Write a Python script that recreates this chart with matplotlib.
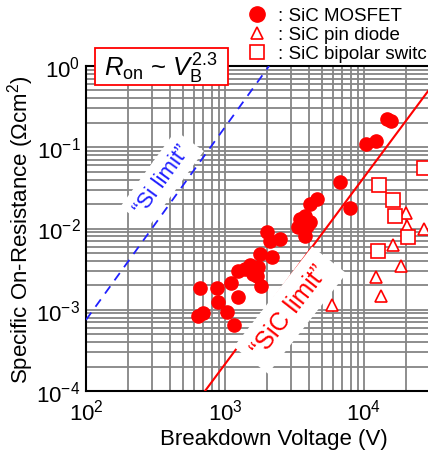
#!/usr/bin/env python3
# Specific on-resistance vs breakdown voltage for SiC devices (log-log)

import matplotlib
matplotlib.use("Agg")
import matplotlib.pyplot as plt
from matplotlib.lines import Line2D
from matplotlib.patches import Rectangle
from matplotlib.ticker import LogLocator, FixedLocator

plt.rcParams['font.family'] = ['Liberation Sans', 'DejaVu Sans']
plt.rcParams['mathtext.fontset'] = 'custom'
plt.rcParams['mathtext.rm'] = 'Liberation Sans'
plt.rcParams['mathtext.it'] = 'Liberation Sans:italic'

# SiC MOSFET (V, Ohm cm^2)
mosfet_v = [661, 875, 891, 1033, 640, 695, 1161, 1104, 1242, 1242, 1393, 1514,
            1589, 1698, 1785, 1815, 1725, 2178, 2004, 2108, 2488, 3467, 3768,
            3350, 3892, 3768, 4092, 4092, 4596, 6717, 7930, 10330, 12190,
            14630, 15630]
mosfet_r = [1.85e-3, 1.85e-3, 1.25e-3, 9.4e-4, 8.4e-4, 9.1e-4, 6.5e-4, 2.13e-3,
            1.44e-3, 3.0e-3, 3.18e-3, 3.56e-3, 2.75e-3, 2.6e-3, 4.85e-3,
            1.96e-3, 3.36e-3, 4.46e-3, 9.06e-3, 7.0e-3, 7.43e-3, 1.31e-2,
            1.43e-2, 1.04e-2, 1.07e-2, 8.1e-3, 1.2e-2, 2.0e-2, 2.3e-2, 3.7e-2,
            1.79e-2, 0.110, 0.119, 0.223, 0.21]

# SiC pin diode
diode_v = [20050, 20370, 27000, 16180, 18460, 12190, 13240, 5890]
diode_r = [1.55e-2, 1.07e-2, 9.9e-3, 6.3e-3, 3.45e-3, 2.53e-3, 1.48e-3, 1.14e-3]

# SiC bipolar switch
bipolar_v = [12830, 16180, 16720, 20750, 12620, 27040]
bipolar_r = [3.43e-2, 2.24e-2, 1.43e-2, 7.9e-3, 5.3e-3, 5.6e-2]

# material limits
si_limit_v = [100, 2075]
si_limit_r = [7.5e-4, 1.0]
sic_limit_v = [718, 30000]
sic_limit_r = [1e-4, 0.535]

x_major = [1e2, 1e3, 1e4]

red = '#ff0000'
blue = '#2020ff'

fig = plt.figure(figsize=(4.28, 4.52), dpi=100)
# axes runs past the right edge of the figure, like the cropped original
ax = fig.add_axes([86 / 428, 60 / 452, 417 / 428, 325 / 452])
ax.set_xscale('log')
ax.set_yscale('log')
ax.set_xlim(1e2, 1e5)
ax.set_ylim(1e-4, 1e0)
ax.xaxis.set_major_locator(FixedLocator(x_major))
ax.xaxis.set_minor_locator(LogLocator(base=10, subs=range(2, 10)))

ax.grid(True, which='both', color='#858585', linewidth=1.3)
ax.set_axisbelow(True)
ax.tick_params(which='both', length=0, labelsize=16, pad=4)
ax.tick_params(axis='x', pad=5.5)
for s in ['left', 'bottom', 'top']:
    ax.spines[s].set_linewidth(1.5)
ax.spines['right'].set_visible(False)

ax.plot(si_limit_v, si_limit_r, color=blue, linestyle=(0, (5, 4)), linewidth=1.3, zorder=3)
ax.plot(sic_limit_v, sic_limit_r, color=red, linewidth=1.5, zorder=3)

ax.plot(mosfet_v, mosfet_r, 'o', color=red, markersize=9.5, zorder=4)
ax.plot(diode_v, diode_r, '^', color=red, markerfacecolor='white',
        markersize=9, markeredgewidth=1.2, zorder=4)
ax.plot(bipolar_v, bipolar_r, 's', color=red, markerfacecolor='white',
        markersize=10, markeredgewidth=1.2, zorder=4)

ax.text(352, 0.0407, '\u201cSi limit\u201d', color=blue, fontsize=16,
        rotation=54, ha='center', va='center', zorder=5,
        bbox=dict(facecolor='white', edgecolor='none', pad=5))
ax.text(2939, 9.9e-4, '\u201cSiC limit\u201d', color=red, fontsize=18,
        rotation=52, ha='center', va='center', zorder=5,
        bbox=dict(facecolor='white', edgecolor='none', pad=7))

# boxed scaling law, sitting on the top spine
fig.add_artist(Rectangle((95 / 428, 1 - 86 / 452), 133 / 428, 37 / 452,
                         transform=fig.transFigure, facecolor='white',
                         edgecolor=red, linewidth=1.3, zorder=2))
fig.text(161 / 428, 1 - 69 / 452, r'$R_{\rm on}$ ~ $V_{\rm B}^{2.3}$',
         fontsize=18.5, ha='center', va='center', zorder=3)

ax.set_xlabel('Breakdown Voltage (V)', fontsize=16)
ax.xaxis.set_label_coords(0.451, -0.115)
ax.set_ylabel('Specific On-Resistance (\u03a9cm$^{2}$)', fontsize=16)
ax.yaxis.set_label_coords(-0.12, 0.5)

handles = [
    Line2D([], [], marker='o', linestyle='none', color=red, markersize=11),
    Line2D([], [], marker='^', linestyle='none', color=red,
           markerfacecolor='white', markersize=8.5, markeredgewidth=1.2),
    Line2D([], [], marker='s', linestyle='none', color=red,
           markerfacecolor='white', markersize=10, markeredgewidth=1.2),
]
labels = [': SiC MOSFET', ': SiC pin diode', ': SiC bipolar switch']
fig.legend(handles, labels, loc='upper left', bbox_to_anchor=(248 / 428, 1 - 8 / 452),
           frameon=False, fontsize=13.5, handlelength=1.0, handletextpad=0.6,
           labelspacing=0.1, borderpad=0, borderaxespad=0)

fig.savefig('out.png', dpi=100)
